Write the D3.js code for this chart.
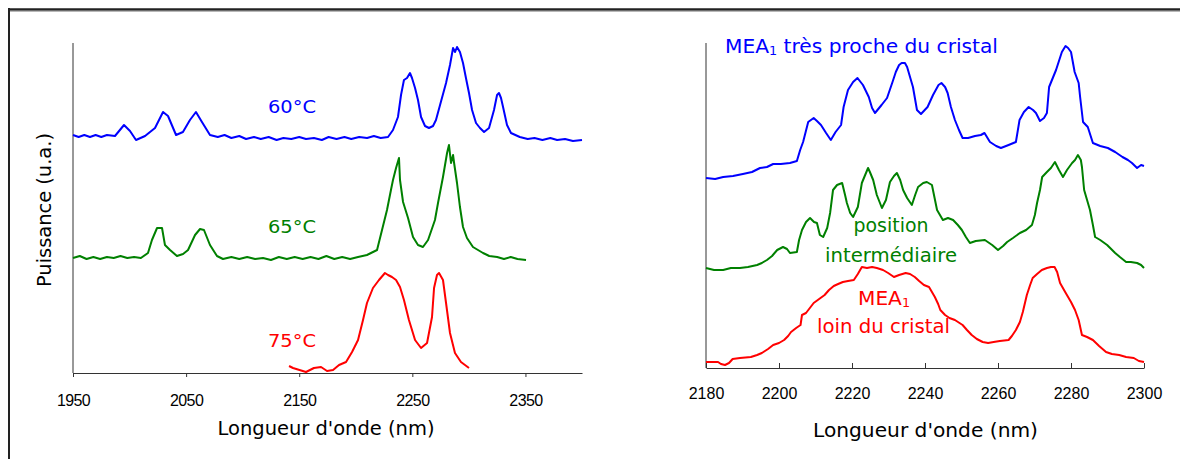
<!DOCTYPE html>
<html><head><meta charset="utf-8">
<script src="https://cdn.jsdelivr.net/npm/d3@7"></script>
<style>html,body{margin:0;padding:0;background:#fff;}svg{display:block;}</style>
</head><body>
<script>
// ---------- DATA ----------
const leftTicks = [1950, 2050, 2150, 2250, 2350];
const rightTicks = [2180, 2200, 2220, 2240, 2260, 2280, 2300];

const l60_x = [1950,1955,1960,1965,1970,1975,1980,1987.1,1995.1,2000.4,2005.7,2013.7,2022.5,2029.6,2034,2041.1,2047.2,2053.4,2058.7,2064,2071.1,2078,2084,2090,2097,2103,2110,2116,2123,2130,2136,2143,2150,2156,2163,2170,2176,2183,2190,2196,2203,2210,2216,2222,2228.5,2232.9,2237.3,2240,2242.6,2245.3,2247.9,2249.7,2252.4,2255,2257.7,2261.2,2264.7,2268.3,2270.9,2274.5,2279.8,2283.3,2286,2287.8,2289.5,2292.1,2294.8,2297.4,2300.1,2302.8,2306.3,2309.8,2313.4,2317.8,2322.2,2324.9,2326.6,2328.4,2330.2,2333.7,2337.2,2345,2352,2358,2365,2372,2378,2385,2392,2400];
const l60_y = [238,236,238,236,238,236,238,237,248,242,233,237,245,261,257,238,241,253,261,251,238,236,238,235,237,234,236,234,236,233,235,234,236,234,235,233,236,234,236,234,236,235,237,235,236,243,256,278,293,295,300,295,285,273,256,247,245,247,253,268,290,308,325,321,326,321,310,295,280,263,250,245,241,245,263,278,280,275,266,248,240,236,234,235,233,235,233,234,232,233];

const l65_x = [1950,1956,1962,1968,1974,1980,1986,1992,1998,2004,2010,2016.3,2019.8,2024.3,2028.7,2031.3,2035.8,2041.9,2047.3,2051.7,2057.9,2062.3,2065.8,2071.1,2077.3,2082.6,2090,2097,2104,2111,2118,2125,2132,2139,2146,2153,2160,2167,2174,2181,2188,2195,2202,2209.9,2218.8,2223.2,2227.6,2231.1,2232.9,2235.6,2238.2,2239.1,2241.8,2246.2,2250.6,2255,2259.4,2263.9,2270,2272.7,2277.1,2280.7,2282.4,2284.2,2286,2286.8,2289.5,2292.1,2294.8,2298.3,2303.6,2312.5,2318,2325,2331,2337,2343,2350.5];
const l65_y = [115,117,114,116,114,116,115,117,115,116,115,120,133,145,145,128,123,117,119,123,138,144,143,128,117,114,116,114,116,114,115,113,116,114,116,114,116,114,117,114,116,114,116,118,123,143,163,183,193,205,215,193,171,155,136,128,126,133,153,170,196,220,228,210,218,211,190,166,146,135,126,120,117,116,114,116,114,113];

const l75_x = [2141,2144.5,2156,2163,2169.3,2174.6,2179.9,2185.2,2191.4,2196.7,2202,2206.4,2209.9,2215.2,2220.5,2225.8,2228.5,2232,2235.6,2239.1,2242.6,2247,2252.4,2257.7,2263,2267.4,2269.2,2271.8,2273.6,2277.1,2279.8,2283.3,2287.7,2293,2300.1];
const l75_y = [7,5,1,5,6,2,3,8,11,21,33,53,70,85,93,100,98,96,93,86,73,53,33,25,30,56,85,98,100,93,70,40,20,11,5];

const rBlue_x = [2180,2182.5,2184.7,2187.4,2190.1,2192.6,2194.8,2196.7,2198.4,2200.5,2203,2204.9,2205.8,2206.6,2208,2209.5,2210.4,2211.5,2212.9,2214.2,2215.5,2217,2217.7,2218.9,2220.3,2221.5,2223,2224.6,2225.5,2226.3,2228.1,2229.6,2231.1,2232,2232.9,2233.6,2234.5,2235.1,2236.7,2237.8,2238.9,2240.7,2242.2,2243.7,2244.5,2245.5,2246.2,2247.1,2248.2,2249.3,2250.3,2251.8,2253.7,2255.3,2256.3,2257.8,2259.5,2260.8,2262.9,2264.9,2265.9,2267.1,2268.4,2269.6,2270.4,2271.5,2272.6,2273.4,2274,2275.9,2277.5,2278.5,2279.2,2280,2281,2282.1,2282.5,2283.3,2284.6,2286,2288,2290.1,2292.1,2294.1,2295.6,2296.7,2298.1,2299.2,2300];
const rBlue_y = [190,189,191,192,194,196,200,201,204,204,205,207,218,226,246,250,247,243,235,228,236,243,261,278,286,290,283,271,260,255,263,270,286,296,303,305,305,301,281,258,254,261,273,283,285,281,275,261,248,238,230,230,232,233,235,226,222,220,223,226,248,256,261,258,255,247,250,255,281,298,316,322,320,316,296,285,271,246,241,225,222,220,216,211,208,205,200,203,202];

const rGreen_x = [2180,2182.2,2184.7,2186.8,2189.3,2191.5,2194,2195.3,2196.7,2198.1,2199.5,2201.1,2202.2,2203,2204.9,2205.5,2206.3,2207.4,2208.5,2209.6,2210.4,2211.2,2212.1,2213.2,2214,2214.8,2215.9,2217.3,2218.1,2218.6,2219.5,2220.3,2221.6,2222.7,2223.6,2224.4,2224.9,2225.8,2226.8,2228.2,2229.3,2230.4,2231.5,2232.3,2233.2,2234,2235.1,2236.4,2237.3,2238.1,2239.5,2240.5,2241.9,2243.3,2244.9,2246.3,2247.7,2249,2250.1,2251.2,2252.3,2253.9,2256.4,2258.4,2260,2261.4,2262.5,2264.1,2266,2267.7,2269.3,2270.1,2270.7,2271.5,2272.1,2273.4,2274.5,2275.6,2276.7,2277.8,2278.9,2280.3,2281.1,2281.9,2282.7,2283,2283.6,2284.4,2285.2,2286,2286.6,2288,2289.9,2292.1,2293.4,2295.1,2296.4,2298.1,2299.2,2300];
const rGreen_y = [100,98,98,100,100,101,103,105,108,112,118,121,119,115,116,128,138,146,150,146,145,133,131,140,155,178,183,185,173,165,155,151,161,185,193,200,196,188,173,160,168,186,192,195,188,178,170,163,173,181,185,186,183,158,148,150,148,143,138,131,125,127,128,123,118,122,126,130,135,138,143,153,165,178,191,196,200,206,198,191,198,205,208,213,208,201,178,168,158,143,131,128,123,115,111,106,106,105,103,100];

const rRed_x = [2180,2181.6,2183.3,2184.1,2185.2,2186.3,2187.3,2189.3,2192.3,2194,2195.3,2197,2198.4,2200,2201.4,2202.5,2203.3,2204.7,2205.9,2206.3,2207.4,2209.5,2211,2212.5,2213.7,2215,2216.2,2217.5,2218.9,2220.5,2221.6,2222.7,2224.1,2225.5,2226.8,2228.5,2229.9,2231.5,2232.9,2234.7,2235.9,2237.2,2238.4,2239.7,2241.1,2241.9,2242.7,2243.6,2244.2,2245.5,2246.7,2248.2,2250.3,2251.5,2252.8,2254.2,2255.8,2257.3,2258.8,2260.5,2262.9,2263.8,2264.9,2266,2266.8,2267.9,2268.8,2269.5,2270.7,2272,2273.4,2274.5,2275.5,2276.2,2277,2278.4,2280,2281.1,2282.1,2283,2284.4,2286,2287.7,2289.6,2291.2,2293.2,2295.1,2297.2,2298.6,2300];
const rRed_y = [6,6,6,4,3,5,9,10,11,13,15,19,23,25,28,32,36,40,43,53,55,65,69,73,78,82,84,86,87,88,94,101,100,101,100,98,95,91,93,95,94,91,87,83,81,76,71,64,58,53,50,48,43,38,33,29,26,25,26,27,28,32,38,46,56,73,83,90,94,98,100,101,101,96,85,76,66,58,48,33,31,28,22,16,14,13,11,10,7,6];

const leftLabels = ["60°C", "65°C", "75°C"];
const xTitle = "Longueur d'onde (nm)";
const yTitle = "Puissance (u.a.)";

// ---------- DRAW ----------
const W = 1180, H = 459;
const svg = d3.select("body").append("svg").attr("width", W).attr("height", H)
  .style("background", "#fff");
const FONT = "'Comic Sans MS','DejaVu Sans',sans-serif";
const TICKFONT = "'Liberation Sans',Arial,sans-serif";
const BLUE = "#0000ff", GREEN = "#008000", RED = "#ff0000";

// outer frame (top + left)
svg.append("line").attr("x1", 8).attr("x2", W).attr("y1", 9.5).attr("y2", 9.5)
  .attr("stroke", "#222").attr("stroke-width", 2.5);
svg.append("line").attr("x1", 8).attr("x2", W).attr("y1", 11.2).attr("y2", 11.2)
  .attr("stroke", "#999").attr("stroke-width", 1);
svg.append("line").attr("x1", 9).attr("x2", 9).attr("y1", 8).attr("y2", H)
  .attr("stroke", "#222").attr("stroke-width", 2);

function drawLine(xs, ys, xS, yS, color) {
  const pts = xs.map((d, i) => [d, ys[i]]);
  svg.append("path").datum(pts)
    .attr("d", d3.line().x(d => xS(d[0])).y(d => yS(d[1])))
    .attr("fill", "none").attr("stroke", color).attr("stroke-width", 2)
    .attr("stroke-linejoin", "round");
}

// ---- left panel ----
const xL = d3.scaleLinear().domain([1950, 2400]).range([73, 582]);
const yL = d3.scaleLinear().domain([0, 330]).range([373, 43]);

const axL = svg.append("g").attr("transform", "translate(0,373)")
  .call(d3.axisBottom(xL).tickValues(leftTicks).tickFormat(d3.format("d"))
    .tickSizeInner(4).tickSizeOuter(0).tickPadding(18));
axL.select(".domain").attr("stroke", "#333");
axL.selectAll(".tick line").attr("stroke", "#333");
axL.selectAll(".tick text").attr("font-family", TICKFONT).attr("font-size", 16)
  .attr("fill", "#000").attr("letter-spacing", -0.6);
svg.append("line").attr("x1", 73).attr("x2", 73).attr("y1", 43).attr("y2", 373)
  .attr("stroke", "#333");

drawLine(l60_x, l60_y, xL, yL, BLUE);
drawLine(l65_x, l65_y, xL, yL, GREEN);
drawLine(l75_x, l75_y, xL, yL, RED);

[[leftLabels[0], 113, BLUE], [leftLabels[1], 233, GREEN], [leftLabels[2], 347, RED]].forEach(([t, y, c]) => {
  svg.append("text").attr("x", 292).attr("y", y).attr("text-anchor", "middle")
    .attr("font-family", FONT).attr("font-size", 18).attr("fill", c)
    .attr("textLength", 48).attr("lengthAdjust", "spacingAndGlyphs").text(t);
});

svg.append("text").attr("x", 326).attr("y", 435).attr("text-anchor", "middle")
  .attr("font-family", FONT).attr("font-size", 19).attr("fill", "#000")
  .attr("textLength", 217).attr("lengthAdjust", "spacingAndGlyphs").text(xTitle);
svg.append("text").attr("transform", "translate(51,210) rotate(-90)").attr("text-anchor", "middle")
  .attr("font-family", FONT).attr("font-size", 19).attr("fill", "#000")
  .attr("textLength", 154).attr("lengthAdjust", "spacingAndGlyphs").text(yTitle);

// ---- right panel ----
const xR = d3.scaleLinear().domain([2180, 2300]).range([706, 1144]);
const yR = d3.scaleLinear().domain([0, 325]).range([368, 43]);

const axR = svg.append("g").attr("transform", "translate(0,368)")
  .call(d3.axisBottom(xR).tickValues(rightTicks).tickFormat(d3.format("d"))
    .tickSizeInner(-5).tickSizeOuter(0).tickPadding(20));
axR.select(".domain").attr("stroke", "#333");
axR.selectAll(".tick line").attr("stroke", "#333");
axR.selectAll(".tick text").attr("font-family", TICKFONT).attr("font-size", 16).attr("fill", "#000");
svg.append("line").attr("x1", 706).attr("x2", 706).attr("y1", 43).attr("y2", 368)
  .attr("stroke", "#333");

drawLine(rBlue_x, rBlue_y, xR, yR, BLUE);
drawLine(rGreen_x, rGreen_y, xR, yR, GREEN);
drawLine(rRed_x, rRed_y, xR, yR, RED);

// right labels
const tb = svg.append("text").attr("x", 725).attr("y", 53)
  .attr("font-family", FONT).attr("font-size", 19).attr("fill", BLUE)
  .attr("textLength", 273).attr("lengthAdjust", "spacingAndGlyphs");
tb.append("tspan").text("MEA");
tb.append("tspan").attr("font-size", 12).attr("dy", 2).text("1");
tb.append("tspan").attr("dy", -2).text(" très proche du cristal");

svg.append("text").attr("x", 891).attr("y", 232).attr("text-anchor", "middle")
  .attr("font-family", FONT).attr("font-size", 19).attr("fill", GREEN)
  .attr("textLength", 75).attr("lengthAdjust", "spacingAndGlyphs").text("position");
svg.append("text").attr("x", 891).attr("y", 262).attr("text-anchor", "middle")
  .attr("font-family", FONT).attr("font-size", 19).attr("fill", GREEN)
  .attr("textLength", 132).attr("lengthAdjust", "spacingAndGlyphs").text("intermédiaire");

const tr = svg.append("text").attr("x", 884).attr("y", 305).attr("text-anchor", "middle")
  .attr("font-family", FONT).attr("font-size", 19).attr("fill", RED)
  .attr("textLength", 52).attr("lengthAdjust", "spacingAndGlyphs");
tr.append("tspan").text("MEA");
tr.append("tspan").attr("font-size", 12).attr("dy", 2).text("1");
svg.append("text").attr("x", 883.5).attr("y", 333).attr("text-anchor", "middle")
  .attr("font-family", FONT).attr("font-size", 19).attr("fill", RED)
  .attr("textLength", 133).attr("lengthAdjust", "spacingAndGlyphs").text("loin du cristal");

svg.append("text").attr("x", 925.5).attr("y", 437).attr("text-anchor", "middle")
  .attr("font-family", FONT).attr("font-size", 19).attr("fill", "#000")
  .attr("textLength", 225).attr("lengthAdjust", "spacingAndGlyphs").text(xTitle);

svg.append("defs").append("clipPath").attr("id", "yclipR")
  .append("rect").attr("x", 600).attr("y", 124).attr("width", 100).attr("height", 300);
svg.append("text").attr("transform", "translate(672,280) rotate(-90)").attr("text-anchor", "start")
  .attr("clip-path", "url(#yclipR)")
  .attr("font-family", FONT).attr("font-size", 19).attr("fill", "#000")
  .attr("textLength", 154).attr("lengthAdjust", "spacingAndGlyphs").text(yTitle);
</script>
</body></html>
